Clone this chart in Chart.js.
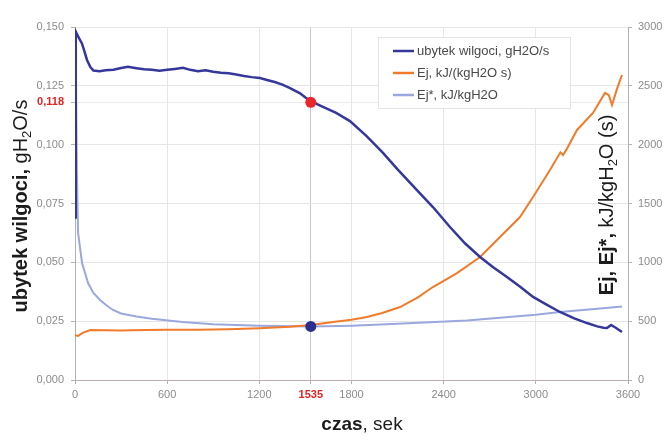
<!DOCTYPE html>
<html>
<head>
    <title>Ubytek wilgoci i Ej</title>
    <script src="https://cdn.jsdelivr.net/npm/chart.js"></script>
    <style>
        body { margin: 0; background: #fff; }
    </style>
</head>
<body>
    <canvas id="chart" width="666" height="441"></canvas>

    <script>
        // ubytek wilgoci, gH2O/s (lewa os)
        var czasUbytek = [0, 5, 20, 45, 60, 78, 100, 120, 160, 200,
            250, 300, 345, 400, 450, 500, 550, 600, 650, 703,
            750, 800, 850, 900, 950, 1000, 1050, 1100, 1150, 1204,
            1250, 1300, 1350, 1400, 1465, 1500, 1535, 1600, 1700, 1790,
            1900, 2005, 2100, 2226, 2330, 2441, 2540, 2637, 2720, 2812,
            2900, 2982, 3070, 3157, 3250, 3333, 3400, 3440, 3463, 3490,
            3520, 3561];
        var ubytek = [0.069, 0.148, 0.146, 0.143, 0.140, 0.136, 0.133, 0.1315, 0.1312, 0.1316,
            0.1318, 0.1326, 0.1331, 0.1325, 0.1320, 0.1318, 0.1314, 0.1318, 0.1322, 0.1327,
            0.1318, 0.1312, 0.1316, 0.1310, 0.1306, 0.1303, 0.1298, 0.1292, 0.1287, 0.1283,
            0.1275, 0.1266, 0.1255, 0.1240, 0.1218, 0.1200, 0.1185, 0.1165, 0.1135, 0.1100,
            0.1035, 0.0965, 0.0895, 0.0807, 0.0735, 0.065, 0.058, 0.0523, 0.048, 0.0438,
            0.0395, 0.0353, 0.032, 0.0289, 0.0262, 0.0242, 0.0228, 0.0222, 0.0221, 0.0234,
            0.0222, 0.0204];

        // Ej, kJ/(kgH2O s) (prawa os)
        var czasEj = [0, 20, 50, 100, 200, 300, 450, 600, 800, 1000,
            1200, 1400, 1535, 1680, 1800, 1900, 2000, 2116, 2230, 2330,
            2487, 2637, 2767, 2897, 2982, 3092, 3160, 3177, 3200, 3268,
            3372, 3450, 3475, 3496, 3530, 3561];
        var ej = [380, 375, 400, 425, 422, 420, 424, 426, 428, 432,
            440, 452, 467, 493, 512, 535, 570, 620, 700, 790,
            909, 1045, 1215, 1385, 1555, 1785, 1935, 1912, 1960, 2125,
            2270, 2440, 2420, 2337, 2480, 2592];

        // Ej*, kJ/kgH2O (prawa os)
        var czasEjGw = [0, 5, 12, 20, 46, 85, 120, 163, 200, 247,
            300, 400, 500, 700, 900, 1200, 1535, 1800, 2100, 2552,
            3000, 3157, 3400, 3561];
        var ejGw = [2950, 2700, 1800, 1250, 995, 824, 740, 680, 640, 595,
            565, 540, 520, 492, 474, 462, 455, 462, 478, 505,
            555, 578, 605, 625];

        var nazwy = ['ubytek wilgoci, gH2O/s', 'Ej, kJ/(kgH2O s)', 'Ej*, kJ/kgH2O'];
        var kolory = ['#35379a', '#f07b2a', '#9aa8de'];

        var xTicks = [0, 600, 1200, 1535, 1800, 2400, 3000, 3600];
        var yTicks = [0, 0.025, 0.05, 0.075, 0.1, 0.118, 0.125, 0.15];
        var punktCzas = 1535;
        var punktUbytek = 0.118;
        var punktEj = 455;

        var FONT = "'Liberation Sans', Arial, sans-serif";
        var OS = '#b8b0b0';
        var SIATKA = '#e6e6e6';

        function zip(xs, ys) {
            var out = [];
            for (var i = 0; i < xs.length; i++) out.push({ x: xs[i], y: ys[i] });
            return out;
        }

        function isMark(c, v) {
            return c.tick && Math.abs(c.tick.value - v) < 1e-6;
        }

        function drawMixed(ctx, parts, cx, cy, angle) {
            ctx.save();
            ctx.translate(cx, cy);
            ctx.rotate(angle);
            var total = 0;
            parts.forEach(function (p) {
                ctx.font = p.font;
                p.w = ctx.measureText(p.text).width;
                total += p.w;
            });
            var x = -total / 2;
            ctx.textBaseline = 'middle';
            ctx.textAlign = 'left';
            ctx.fillStyle = '#1c1c1c';
            parts.forEach(function (p) {
                ctx.font = p.font;
                ctx.fillText(p.text, x, p.dy || 0);
                x += p.w;
            });
            ctx.restore();
        }

        var extras = {
            id: 'extras',
            afterDraw: function (chart) {
                var ctx = chart.ctx;
                var B = 'bold 20px ' + FONT, N = '20px ' + FONT, S = '13px ' + FONT;

                drawMixed(ctx, [
                    { text: 'ubytek wilgoci, ', font: B },
                    { text: 'gH', font: N },
                    { text: '2', font: S, dy: 6 },
                    { text: 'O/s', font: N }
                ], 21, 206, -Math.PI / 2);

                drawMixed(ctx, [
                    { text: 'Ej, Ej*,', font: B },
                    { text: ' kJ/kgH', font: N },
                    { text: '2', font: S, dy: 6 },
                    { text: 'O (s)', font: N }
                ], 607, 205, -Math.PI / 2);

                drawMixed(ctx, [
                    { text: 'czas', font: 'bold 19px ' + FONT },
                    { text: ', sek', font: '19px ' + FONT }
                ], 362, 425, 0);

                // legenda
                ctx.save();
                ctx.fillStyle = '#fff';
                ctx.strokeStyle = '#e4e4e4';
                ctx.lineWidth = 1;
                ctx.fillRect(378, 37, 192, 71);
                ctx.strokeRect(378.5, 37.5, 192, 71);
                ctx.font = '13px ' + FONT;
                ctx.textBaseline = 'middle';
                for (var i = 0; i < nazwy.length; i++) {
                    var y = 51 + i * 22;
                    ctx.strokeStyle = kolory[i];
                    ctx.lineWidth = 2.5;
                    ctx.beginPath();
                    ctx.moveTo(393, y);
                    ctx.lineTo(414, y);
                    ctx.stroke();
                    ctx.fillStyle = '#4a4a4a';
                    ctx.fillText(nazwy[i], 417, y);
                }
                ctx.restore();
            }
        };

        var ctx = document.getElementById('chart').getContext('2d');
        var chart = new Chart(ctx, {
            type: 'line',
            data: {
                datasets: [
                    {
                        label: 'punkt',
                        data: [{ x: punktCzas, y: punktUbytek }],
                        yAxisID: 'y',
                        showLine: false,
                        pointRadius: 5.5,
                        pointBackgroundColor: '#e8262c',
                        pointBorderWidth: 0
                    },
                    {
                        label: 'punkt Ej*',
                        data: [{ x: punktCzas, y: punktEj }],
                        yAxisID: 'y1',
                        showLine: false,
                        pointRadius: 5.5,
                        pointBackgroundColor: '#2b2f8e',
                        pointBorderWidth: 0
                    },
                    {
                        label: nazwy[0],
                        data: zip(czasUbytek, ubytek),
                        yAxisID: 'y',
                        borderColor: kolory[0],
                        borderWidth: 2.5,
                        pointRadius: 0,
                        fill: false
                    },
                    {
                        label: nazwy[1],
                        data: zip(czasEj, ej),
                        yAxisID: 'y1',
                        borderColor: kolory[1],
                        borderWidth: 2,
                        pointRadius: 0,
                        fill: false
                    },
                    {
                        label: nazwy[2],
                        data: zip(czasEjGw, ejGw),
                        yAxisID: 'y1',
                        borderColor: kolory[2],
                        borderWidth: 2,
                        pointRadius: 0,
                        fill: false
                    }
                ]
            },
            options: {
                responsive: false,
                animation: false,
                devicePixelRatio: 1,
                layout: { padding: { top: 27, left: 0, right: 0, bottom: 0 } },
                plugins: {
                    legend: { display: false },
                    tooltip: { enabled: false }
                },
                scales: {
                    x: {
                        type: 'linear',
                        min: 0,
                        max: 3600,
                        afterBuildTicks: function (scale) {
                            scale.ticks = xTicks.map(function (v) { return { value: v }; });
                        },
                        afterFit: function (scale) { scale.height = 61; },
                        border: { color: OS },
                        grid: {
                            color: function (c) { return isMark(c, punktCzas) ? '#c8c8c8' : SIATKA; },
                            tickColor: OS,
                            tickLength: 4
                        },
                        ticks: {
                            autoSkip: false,
                            maxRotation: 0,
                            padding: 4,
                            color: function (c) { return isMark(c, punktCzas) ? '#e02424' : '#8c8c8c'; },
                            font: function (c) {
                                return { family: FONT, size: 11, weight: isMark(c, punktCzas) ? 'bold' : 'normal' };
                            },
                            callback: function (v) { return String(v); }
                        }
                    },
                    y: {
                        position: 'left',
                        min: 0,
                        max: 0.15,
                        afterBuildTicks: function (scale) {
                            scale.ticks = yTicks.map(function (v) { return { value: v }; });
                        },
                        afterFit: function (scale) { scale.width = 75; },
                        border: { color: OS },
                        grid: {
                            color: function (c) { return isMark(c, punktUbytek) ? '#ececec' : SIATKA; },
                            tickColor: OS,
                            tickLength: 4
                        },
                        ticks: {
                            autoSkip: false,
                            padding: 7,
                            color: function (c) { return isMark(c, punktUbytek) ? '#e02424' : '#8c8c8c'; },
                            font: function (c) {
                                return { family: FONT, size: 11, weight: isMark(c, punktUbytek) ? 'bold' : 'normal' };
                            },
                            callback: function (v) { return v.toFixed(3).replace('.', ','); }
                        }
                    },
                    y1: {
                        position: 'right',
                        min: 0,
                        max: 3000,
                        afterFit: function (scale) { scale.width = 38; },
                        border: { color: OS },
                        grid: { drawOnChartArea: false, tickColor: OS, tickLength: 4 },
                        ticks: {
                            stepSize: 500,
                            padding: 6,
                            color: '#8c8c8c',
                            font: { family: FONT, size: 11 },
                            callback: function (v) { return String(v); }
                        }
                    }
                }
            },
            plugins: [extras]
        });
    </script>
</body>
</html>
